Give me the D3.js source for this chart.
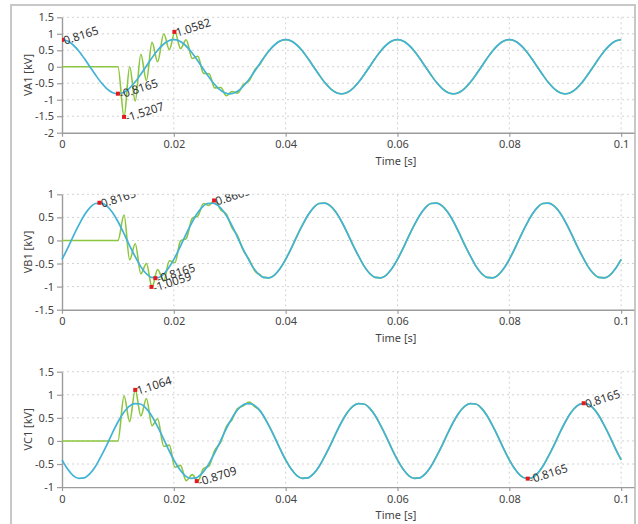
<!DOCTYPE html>
<html>
<head>
<meta charset="utf-8">
<script src="https://cdn.jsdelivr.net/npm/d3@7"></script>
<style>
body { margin: 0; background: #fff; }
text { font-family: "Noto Sans", "Open Sans", sans-serif; }
</style>
</head>
<body>
<script>
var w = 638;
var h = 524;

// x axis ticks (s) and the sample step of the steady waves
var xTicks = [0, 0.02, 0.04, 0.06, 0.08, 0.1];
var tStep = 0.001;

// panel names and y ranges (kV)
var panelNames = ["VA1 [kV]", "VB1 [kV]", "VC1 [kV]"];
var yDomainA = [-2, 1.5];
var yDomainB = [-1.5, 1];
var yDomainC = [-1, 1.5];

// blue: steady voltage, one value every 1 ms from 0 to 0.1 s
var blueA = [
  0.82,0.78,0.66,0.48,0.25,0,-0.25,-0.48,-0.66,-0.78,-0.82,-0.78,-0.66,-0.48,-0.25,0,0.25,0.48,0.66,0.78,
  0.82,0.78,0.66,0.48,0.25,0,-0.25,-0.48,-0.66,-0.78,-0.82,-0.78,-0.66,-0.48,-0.25,0,0.25,0.48,0.66,0.78,
  0.82,0.78,0.66,0.48,0.25,0,-0.25,-0.48,-0.66,-0.78,-0.82,-0.78,-0.66,-0.48,-0.25,0,0.25,0.48,0.66,0.78,
  0.82,0.78,0.66,0.48,0.25,0,-0.25,-0.48,-0.66,-0.78,-0.82,-0.78,-0.66,-0.48,-0.25,0,0.25,0.48,0.66,0.78,
  0.82,0.78,0.66,0.48,0.25,0,-0.25,-0.48,-0.66,-0.78,-0.82,-0.78,-0.66,-0.48,-0.25,0,0.25,0.48,0.66,0.78,
  0.82];
var blueB = [
  -0.41,-0.17,0.09,0.33,0.55,0.71,0.80,0.81,0.75,0.61,0.41,0.17,-0.09,-0.33,-0.55,-0.71,-0.80,-0.81,-0.75,-0.61,
  -0.41,-0.17,0.09,0.33,0.55,0.71,0.80,0.81,0.75,0.61,0.41,0.17,-0.09,-0.33,-0.55,-0.71,-0.80,-0.81,-0.75,-0.61,
  -0.41,-0.17,0.09,0.33,0.55,0.71,0.80,0.81,0.75,0.61,0.41,0.17,-0.09,-0.33,-0.55,-0.71,-0.80,-0.81,-0.75,-0.61,
  -0.41,-0.17,0.09,0.33,0.55,0.71,0.80,0.81,0.75,0.61,0.41,0.17,-0.09,-0.33,-0.55,-0.71,-0.80,-0.81,-0.75,-0.61,
  -0.41,-0.17,0.09,0.33,0.55,0.71,0.80,0.81,0.75,0.61,0.41,0.17,-0.09,-0.33,-0.55,-0.71,-0.80,-0.81,-0.75,-0.61,
  -0.41];
var blueC = [
  -0.41,-0.61,-0.75,-0.81,-0.80,-0.71,-0.55,-0.33,-0.09,0.17,0.41,0.61,0.75,0.81,0.80,0.71,0.55,0.33,0.09,-0.17,
  -0.41,-0.61,-0.75,-0.81,-0.80,-0.71,-0.55,-0.33,-0.09,0.17,0.41,0.61,0.75,0.81,0.80,0.71,0.55,0.33,0.09,-0.17,
  -0.41,-0.61,-0.75,-0.81,-0.80,-0.71,-0.55,-0.33,-0.09,0.17,0.41,0.61,0.75,0.81,0.80,0.71,0.55,0.33,0.09,-0.17,
  -0.41,-0.61,-0.75,-0.81,-0.80,-0.71,-0.55,-0.33,-0.09,0.17,0.41,0.61,0.75,0.81,0.80,0.71,0.55,0.33,0.09,-0.17,
  -0.41,-0.61,-0.75,-0.81,-0.80,-0.71,-0.55,-0.33,-0.09,0.17,0.41,0.61,0.75,0.81,0.80,0.71,0.55,0.33,0.09,-0.17,
  -0.41];

// green: switched voltage, turning points of the transient (after it, green follows blue)
var greenTime = [0, 0.0100, 0.0111, 0.0121, 0.0131, 0.0141, 0.0151, 0.0161, 0.0171, 0.0182, 0.0192,
  0.0202, 0.0212, 0.0222, 0.0233, 0.0243, 0.0253, 0.0263, 0.0273, 0.0284, 0.0294,
  0.0304, 0.0314, 0.0324, 0.0335, 0.0345, 0.0355];
var greenA = [0, 0, -1.52, 0.00, -1.04, 0.38, -0.42, 0.74, 0.15, 1.00, 0.52,
  1.06, 0.55, 0.82, 0.25, 0.32, -0.20, -0.21, -0.64, -0.63, -0.88,
  -0.75, -0.80, -0.55, -0.42, -0.09, 0.10];
var greenB = [0, 0, 0.55, -0.42, -0.07, -0.72, -0.50, -1.01, -0.63, -0.88, -0.44,
  -0.48, -0.01, 0.04, 0.48, 0.53, 0.80, 0.76, 0.87, 0.66, 0.57,
  0.28, 0.10, -0.21, -0.42, -0.66, -0.75];
var greenC = [0, 0, 0.98, 0.42, 1.11, 0.54, 0.92, 0.33, 0.48, -0.12, -0.09,
  -0.57, -0.53, -0.86, -0.73, -0.87, -0.60, -0.54, -0.21, -0.02, 0.31,
  0.46, 0.70, 0.76, 0.84, 0.74, 0.65];

// red markers: time, value, label
var marksA = [[0, 0.8165, "0.8165"], [0.0100, -0.8165, "-0.8165"], [0.0111, -1.5207, "-1.5207"], [0.0201, 1.0582, "1.0582"]];
var marksB = [[0.0067, 0.8165, "0.8165"], [0.0167, -0.8165, "-0.8165"], [0.0160, -1.0059, "-1.0059"], [0.0272, 0.8665, "0.8665"]];
var marksC = [[0.0131, 1.1064, "1.1064"], [0.0241, -0.8709, "-0.8709"], [0.0833, -0.8165, "-0.8165"], [0.0933, 0.8165, "0.8165"]];

// layout
var plotLeft = 62, plotRight = 634;
var panelTop = [17.3, 194.3, 371.7];
var panelH = 115.4;
var timeLabelX = 396;

var panels = [
  {name: panelNames[0], dom: yDomainA, blue: blueA, green: greenA, marks: marksA},
  {name: panelNames[1], dom: yDomainB, blue: blueB, green: greenB, marks: marksB},
  {name: panelNames[2], dom: yDomainC, blue: blueC, green: greenC, marks: marksC}
];

var fmt = function(d){ return String(+d.toFixed(2)); };

var svg = d3.select("body").append("svg")
            .attr("width", w)
            .attr("height", h);

// outer frame
svg.append("rect")
   .attr("x", 11).attr("y", 5)
   .attr("width", 624).attr("height", 560)
   .attr("fill", "none")
   .attr("stroke", "#c8c8c8")
   .attr("stroke-width", 2);

var x = d3.scaleLinear().domain([0, 0.1023]).range([plotLeft, plotRight]);

panels.forEach(function(p, i){
    var top = panelTop[i];
    var bottom = top + panelH;
    var y = d3.scaleLinear().domain(p.dom).range([bottom, top]);
    var yTicks = d3.range(p.dom[0], p.dom[1] + 0.001, 0.5);
    var g = svg.append("g").attr("id", "panel" + i);

    // dotted grid
    g.selectAll(".hgrid").data(yTicks.filter(function(d){ return d > p.dom[0]; }))
        .enter().append("line").attr("class", "hgrid")
        .attr("x1", plotLeft).attr("x2", plotRight)
        .attr("y1", function(d){ return y(d); })
        .attr("y2", function(d){ return y(d); })
        .attr("stroke", "#d2d2d2")
        .attr("stroke-dasharray", "2,3");
    g.selectAll(".vgrid").data(xTicks.filter(function(d){ return d > 0; }))
        .enter().append("line").attr("class", "vgrid")
        .attr("x1", function(d){ return x(d); })
        .attr("x2", function(d){ return x(d); })
        .attr("y1", top).attr("y2", bottom)
        .attr("stroke", "#d2d2d2")
        .attr("stroke-dasharray", "2,3");

    // axes
    var xa = g.append("g").attr("transform", "translate(0," + bottom + ")")
        .call(d3.axisBottom(x).tickValues(xTicks).tickSize(4).tickSizeOuter(0).tickPadding(4).tickFormat(fmt));
    var ya = g.append("g").attr("transform", "translate(" + plotLeft + ",0)")
        .call(d3.axisLeft(y).tickValues(yTicks).tickSize(5).tickSizeOuter(0).tickPadding(3).tickFormat(fmt));
    [xa, ya].forEach(function(a){
        a.select(".domain").attr("stroke", "#9c9c9c").attr("stroke-width", 1.4);
        a.selectAll(".tick line").attr("stroke", "#9c9c9c").attr("stroke-width", 1.2);
        a.selectAll(".tick text").attr("fill", "#444").attr("font-size", 11)
         .style("font-family", "'Noto Sans', 'Open Sans', sans-serif");
    });

    // axis titles
    g.append("text")
     .attr("transform", "translate(29," + (top + panelH / 2) + ") rotate(-90)")
     .attr("text-anchor", "middle")
     .attr("dominant-baseline", "middle")
     .attr("font-size", 11)
     .attr("fill", "#444")
     .text(p.name);
    g.append("text")
     .attr("x", timeLabelX).attr("y", bottom + 29)
     .attr("text-anchor", "middle")
     .attr("dominant-baseline", "middle")
     .attr("font-size", 11)
     .attr("fill", "#444")
     .text("Time [s]");

    // curves
    var line = d3.line()
        .x(function(d){ return x(d[0]); })
        .y(function(d){ return y(d[1]); })
        .curve(d3.curveMonotoneX);
    var bluePts = p.blue.map(function(v, k){ return [k * tStep, v]; });
    var lastT = greenTime[greenTime.length - 1];
    var greenPts = greenTime.map(function(t, k){ return [t, p.green[k]]; })
        .concat(bluePts.filter(function(d){ return d[0] > lastT + 0.0003; }));

    g.append("path").datum(greenPts)
     .attr("d", line)
     .attr("fill", "none")
     .attr("stroke", "#8cc63f")
     .attr("stroke-width", 1.6);
    g.append("path").datum(bluePts)
     .attr("d", line)
     .attr("fill", "none")
     .attr("stroke", "#42b2d8")
     .attr("stroke-width", 1.7);

    // markers and their labels, clipped to the plot area
    svg.append("clipPath").attr("id", "clip" + i)
       .append("rect")
       .attr("x", plotLeft).attr("y", top)
       .attr("width", plotRight - plotLeft).attr("height", panelH);
    var mg = g.append("g").attr("clip-path", "url(#clip" + i + ")");
    mg.selectAll("rect").data(p.marks).enter().append("rect")
      .attr("x", function(d){ return x(d[0]) - 2; })
      .attr("y", function(d){ return y(d[1]) - 2; })
      .attr("width", 4).attr("height", 4)
      .attr("fill", "#e3191c");
    mg.selectAll("text").data(p.marks).enter().append("text")
      .attr("x", function(d){ return x(d[0]) + 3; })
      .attr("y", function(d){ return y(d[1]) + 5; })
      .attr("transform", function(d){ return "rotate(-18," + (x(d[0]) + 3) + "," + (y(d[1]) + 5) + ")"; })
      .attr("font-size", 11.5)
      .attr("fill", "#333")
      .text(function(d){ return d[2]; });
});
</script>
</body>
</html>
